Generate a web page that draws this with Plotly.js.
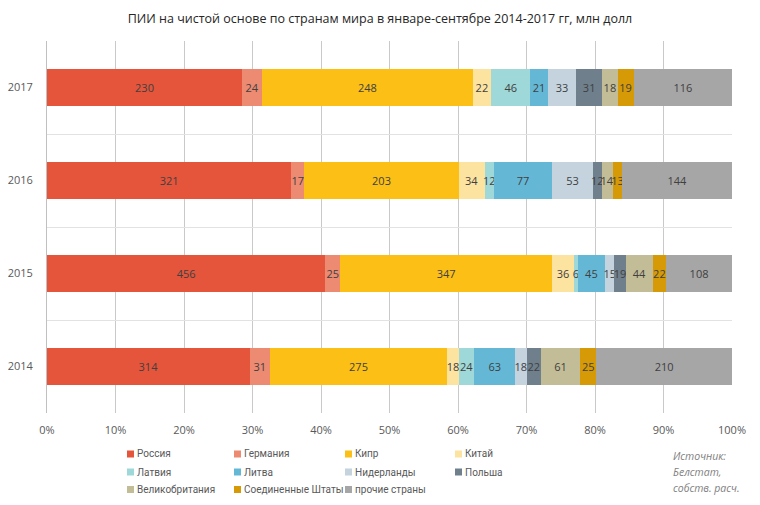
<!DOCTYPE html>
<html>
<head>
<meta charset="utf-8">
<script src="https://cdn.plot.ly/plotly-3.0.1.min.js"></script>
<style>
  html, body { margin: 0; padding: 0; background: #fff; }
  #chart { width: 760px; height: 505px; }
</style>
</head>
<body>
<div id="chart"></div>
<script>
// ПИИ на чистой основе, млн долл (январь-сентябрь)
var years = ['2014', '2015', '2016', '2017'];

var russia      = [314, 456, 321, 230];
var germany     = [31, 25, 17, 24];
var cyprus      = [275, 347, 203, 248];
var china       = [18, 36, 34, 22];
var latvia      = [24, 6, 12, 46];
var lithuania   = [63, 45, 77, 21];
var netherlands = [18, 15, 53, 33];
var poland      = [22, 19, 12, 31];
var uk          = [61, 44, 14, 18];
var usa         = [25, 22, 13, 19];
var others      = [210, 108, 144, 116];

var xTicks = [0, 10, 20, 30, 40, 50, 60, 70, 80, 90, 100];
var sourceLines = ['Источник:', 'Белстат,', 'собств. расч.'];

var series = [
  { name: 'Россия', values: russia, color: '#E4553B' },
  { name: 'Германия', values: germany, color: '#EC8A72' },
  { name: 'Кипр', values: cyprus, color: '#FBBF16' },
  { name: 'Китай', values: china, color: '#FDE3A0' },
  { name: 'Латвия', values: latvia, color: '#9FD8D8' },
  { name: 'Литва', values: lithuania, color: '#64B8D6' },
  { name: 'Нидерланды', values: netherlands, color: '#C4D3DD' },
  { name: 'Польша', values: poland, color: '#6F7F8C' },
  { name: 'Великобритания', values: uk, color: '#C3BD97' },
  { name: 'Соединенные Штаты', values: usa, color: '#D59A05' },
  { name: 'прочие страны', values: others, color: '#A6A6A6' },
];

// plot area in pixels, used to place the legend and the source note
var plotL = 47, plotW = 685, plotT = 41, plotH = 372;
var pxToX = (px) => (px - plotL) / plotW;
var pxToY = (py) => (plotT + plotH - py) / plotH;

var data = series.map(function (s) {
  return {
    type: 'bar',
    orientation: 'h',
    name: s.name,
    x: s.values,
    y: years,
    text: s.values.map(String),
    textposition: 'inside',
    insidetextanchor: 'middle',
    constraintext: 'none',
    textangle: 0,
    textfont: { family: 'Open Sans', size: 11, color: '#404040' },
    marker: { color: s.color, line: { width: 0 } },
    showlegend: false,
    hoverinfo: 'name+x',
  };
});

/**
 * LEGEND
 * Excel-style grid, 4 columns, small square swatches
 */
var legendCols = [127, 234, 345, 455];
var legendRows = [454, 472, 489.5];
var shapes = [];
var annotations = [];

series.forEach(function (s, i) {
  var left = legendCols[i % 4];
  var cy = legendRows[Math.floor(i / 4)];
  shapes.push({
    type: 'rect',
    xref: 'paper',
    yref: 'paper',
    x0: pxToX(left),
    x1: pxToX(left + 7),
    y0: pxToY(cy + 3.5),
    y1: pxToY(cy - 3.5),
    fillcolor: s.color,
    line: { width: 0 },
  });
  annotations.push({
    xref: 'paper',
    yref: 'paper',
    x: pxToX(left + 8),
    y: pxToY(cy),
    xanchor: 'left',
    yanchor: 'middle',
    showarrow: false,
    text: s.name,
    font: { family: 'Roboto', size: 10, color: '#595959' },
  });
});

sourceLines.forEach(function (line, i) {
  annotations.push({
    xref: 'paper',
    yref: 'paper',
    x: pxToX(671),
    y: pxToY(456 + i * 16),
    xanchor: 'left',
    yanchor: 'middle',
    showarrow: false,
    text: '<i>' + line + '</i>',
    font: { family: 'Open Sans', size: 10.5, color: '#808080' },
  });
});

var layout = {
  width: 760,
  height: 505,
  margin: { l: plotL, r: 760 - plotL - plotW, t: plotT, b: 505 - plotT - plotH },
  paper_bgcolor: '#fff',
  plot_bgcolor: '#fff',
  barmode: 'stack',
  barnorm: 'percent',
  bargap: 0.61,
  showlegend: false,
  font: { family: 'Open Sans', color: '#595959' },
  title: {
    text: 'ПИИ на чистой основе по странам мира в январе-сентябре 2014-2017 гг, млн долл',
    font: { family: 'Open Sans', size: 12.5, color: '#262626' },
    x: 0.5,
    xanchor: 'center',
    y: 0.963,
    yanchor: 'middle',
  },
  xaxis: {
    range: [0, 100],
    tickvals: xTicks,
    ticktext: xTicks.map((v) => v + '%'),
    showgrid: true,
    gridcolor: '#C9C9C9',
    gridwidth: 1,
    zeroline: false,
    showline: false,
    ticks: '',
    ticklabelstandoff: 9,
    tickfont: { family: 'Open Sans', size: 11, color: '#595959' },
    fixedrange: true,
  },
  yaxis: {
    type: 'category',
    range: [-0.5, 3.5],
    tickson: 'boundaries',
    showgrid: true,
    gridcolor: '#E2E2E2',
    showline: true,
    linecolor: '#C0C0C0',
    ticks: '',
    ticklabelstandoff: 11,
    tickfont: { family: 'Open Sans', size: 11, color: '#595959' },
    fixedrange: true,
  },
  shapes: shapes,
  annotations: annotations,
};

Plotly.newPlot('chart', data, layout, { displayModeBar: false, responsive: false });
</script>
</body>
</html>
